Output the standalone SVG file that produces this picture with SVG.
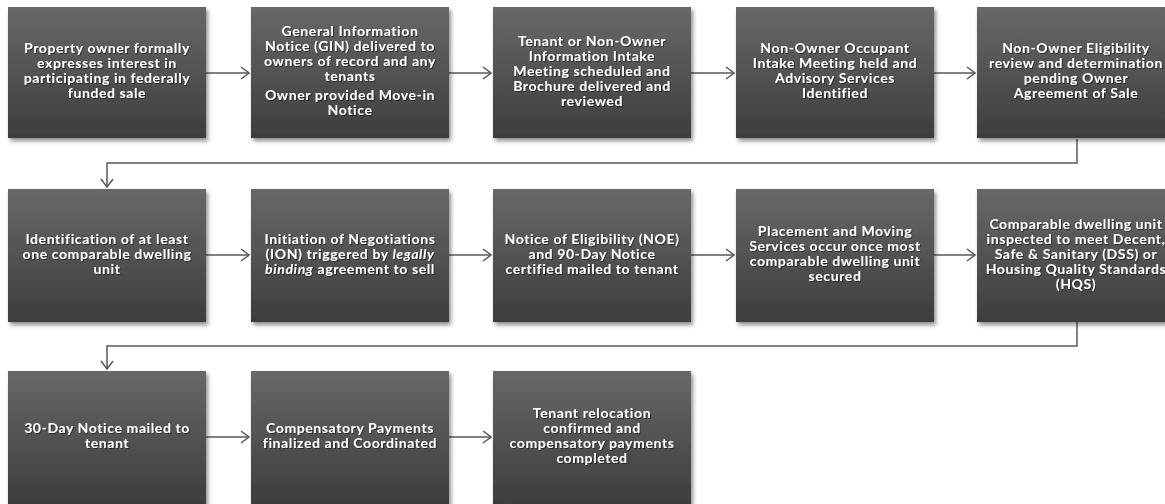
<svg xmlns="http://www.w3.org/2000/svg" width="1165" height="504" viewBox="0 0 1165 504">
  <defs>
    <linearGradient id="boxFill" x1="0" y1="0" x2="0" y2="1">
      <stop offset="0" stop-color="#686868"/>
      <stop offset="1" stop-color="#3d3d3d"/>
    </linearGradient>
    <filter id="boxShadow" x="-10%" y="-10%" width="125%" height="125%">
      <feGaussianBlur in="SourceAlpha" stdDeviation="2"/>
      <feOffset dx="2" dy="3" result="b"/>
      <feComponentTransfer><feFuncA type="linear" slope="0.45"/></feComponentTransfer>
      <feMerge><feMergeNode/><feMergeNode in="SourceGraphic"/></feMerge>
    </filter>
    <filter id="textShadow" x="-5%" y="-20%" width="110%" height="140%">
      <feOffset in="SourceAlpha" dx="1" dy="1"/>
      <feGaussianBlur stdDeviation="0.6"/>
      <feComponentTransfer><feFuncA type="linear" slope="0.5"/></feComponentTransfer>
      <feMerge><feMergeNode/><feMergeNode in="SourceGraphic"/></feMerge>
    </filter>
    <marker id="chev" viewBox="0 0 10 14" refX="9" refY="7" markerWidth="10" markerHeight="14" markerUnits="userSpaceOnUse" orient="auto">
      <path d="M1,1 L9,7 L1,13" fill="none" stroke="#595959" stroke-width="1.5"/>
    </marker>
  </defs>
  <style>
    .box { fill: url(#boxFill); filter: url(#boxShadow); }
    .lbl { font-family: Lato, "Open Sans", "Liberation Sans", sans-serif; font-weight: bold; font-size: 14px; letter-spacing: 0.6px; fill: #ffffff; text-anchor: middle; filter: url(#textShadow); }
    .it { font-style: italic; }
    .conn { fill: none; stroke: #595959; stroke-width: 1.5; marker-end: url(#chev); }
  </style>

  <g id="connectors">
    <path class="conn" d="M206,73 H249"/>
    <path class="conn" d="M449,73 H491"/>
    <path class="conn" d="M691,73 H734"/>
    <path class="conn" d="M934,73 H975"/>
    <path class="conn" d="M1077,139 V163 H107 V187"/>
    <path class="conn" d="M206,255 H249"/>
    <path class="conn" d="M449,255 H491"/>
    <path class="conn" d="M691,255 H734"/>
    <path class="conn" d="M934,255 H975"/>
    <path class="conn" d="M1077,322 V346 H107 V369"/>
    <path class="conn" d="M206,437 H249"/>
    <path class="conn" d="M449,437 H491"/>
  </g>

  <g id="n1">
    <rect class="box" x="8" y="7" width="198" height="131"/>
    <text class="lbl"><tspan x="107" y="53">Property owner formally</tspan><tspan x="107" y="68">expresses interest in</tspan><tspan x="107" y="83">participating in federally</tspan><tspan x="107" y="98">funded sale</tspan></text>
  </g>
  <g id="n2">
    <rect class="box" x="251" y="7" width="198" height="131"/>
    <text class="lbl"><tspan x="350" y="36">General Information</tspan><tspan x="350" y="51">Notice (GIN) delivered to</tspan><tspan x="350" y="66">owners of record and any</tspan><tspan x="350" y="81">tenants</tspan><tspan x="350" y="100">Owner provided Move-in</tspan><tspan x="350" y="115">Notice</tspan></text>
  </g>
  <g id="n3">
    <rect class="box" x="493" y="7" width="198" height="131"/>
    <text class="lbl"><tspan x="592" y="45.5">Tenant or Non-Owner</tspan><tspan x="592" y="60.5">Information Intake</tspan><tspan x="592" y="75.5">Meeting scheduled and</tspan><tspan x="592" y="90.5">Brochure delivered and</tspan><tspan x="592" y="105.5">reviewed</tspan></text>
  </g>
  <g id="n4">
    <rect class="box" x="736" y="7" width="198" height="131"/>
    <text class="lbl"><tspan x="835" y="53">Non-Owner Occupant</tspan><tspan x="835" y="68">Intake Meeting held and</tspan><tspan x="835" y="83">Advisory Services</tspan><tspan x="835" y="98">Identified</tspan></text>
  </g>
  <g id="n5">
    <rect class="box" x="977" y="7" width="198" height="131"/>
    <text class="lbl"><tspan x="1076" y="53">Non-Owner Eligibility</tspan><tspan x="1076" y="68">review and determination</tspan><tspan x="1076" y="83">pending Owner</tspan><tspan x="1076" y="98">Agreement of Sale</tspan></text>
  </g>

  <g id="n6">
    <rect class="box" x="8" y="189" width="198" height="133"/>
    <text class="lbl"><tspan x="107" y="243.5">Identification of at least</tspan><tspan x="107" y="258.5">one comparable dwelling</tspan><tspan x="107" y="273.5">unit</tspan></text>
  </g>
  <g id="n7">
    <rect class="box" x="251" y="189" width="198" height="133"/>
    <text class="lbl"><tspan x="350" y="243.5">Initiation of Negotiations</tspan><tspan x="350" y="258.5">(ION) triggered by <tspan class="it">legally</tspan></tspan><tspan x="350" y="273.5"><tspan class="it">binding</tspan> agreement to sell</tspan></text>
  </g>
  <g id="n8">
    <rect class="box" x="493" y="189" width="198" height="133"/>
    <text class="lbl"><tspan x="592" y="243.5">Notice of Eligibility (NOE)</tspan><tspan x="592" y="258.5">and 90-Day Notice</tspan><tspan x="592" y="273.5">certified mailed to tenant</tspan></text>
  </g>
  <g id="n9">
    <rect class="box" x="736" y="189" width="198" height="133"/>
    <text class="lbl"><tspan x="835" y="236">Placement and Moving</tspan><tspan x="835" y="251">Services occur once most</tspan><tspan x="835" y="266">comparable dwelling unit</tspan><tspan x="835" y="281">secured</tspan></text>
  </g>
  <g id="n10">
    <rect class="box" x="977" y="189" width="198" height="133"/>
    <text class="lbl"><tspan x="1076" y="228.5">Comparable dwelling unit</tspan><tspan x="1076" y="243.5">inspected to meet Decent,</tspan><tspan x="1076" y="258.5">Safe &amp; Sanitary (DSS) or</tspan><tspan x="1076" y="273.5">Housing Quality Standards</tspan><tspan x="1076" y="288.5">(HQS)</tspan></text>
  </g>

  <g id="n11">
    <rect class="box" x="8" y="371" width="198" height="133"/>
    <text class="lbl"><tspan x="107" y="433">30-Day Notice mailed to</tspan><tspan x="107" y="448">tenant</tspan></text>
  </g>
  <g id="n12">
    <rect class="box" x="251" y="371" width="198" height="133"/>
    <text class="lbl"><tspan x="350" y="433">Compensatory Payments</tspan><tspan x="350" y="448">finalized and Coordinated</tspan></text>
  </g>
  <g id="n13">
    <rect class="box" x="493" y="371" width="198" height="133"/>
    <text class="lbl"><tspan x="592" y="418">Tenant relocation</tspan><tspan x="592" y="433">confirmed and</tspan><tspan x="592" y="448">compensatory payments</tspan><tspan x="592" y="463">completed</tspan></text>
  </g>
</svg>
